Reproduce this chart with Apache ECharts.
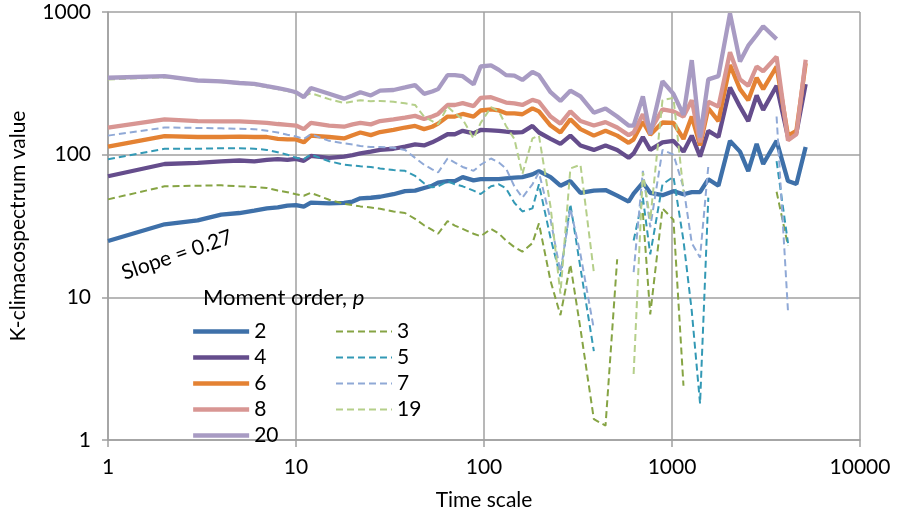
<!DOCTYPE html>
<html>
<head>
<meta charset="utf-8">
<script src="https://cdn.jsdelivr.net/npm/echarts@6/dist/echarts.min.js"></script>
<style>
html,body{margin:0;padding:0;background:#fff;}
#chart{width:902px;height:516px;}
</style>
</head>
<body>
<div id="chart"></div>
<script>
// Time scales (x)
const timeScale = [1,2,3,4,5,6,7,8,9,10,11,12,15,18,20,22,25,28,33,38,43,48,53,57,64,70,77,88,96,
  109,120,131,145,160,181,196,226,255,288,326,384,443,511,588,625,
  700,766,890,1018,1151,1274,1410,1560,1766,2035,2300,2545,2820,3055,3600,4140,4590,5140];

// Moment order p = 2
const p2 = [24.8,32.5,34.6,38,39,40.5,42,42.7,43.9,44.3,43.2,46.1,
  45.6,46,46.9,49.4,49.9,50.7,52.8,55.5,56,58.4,60.6,63.7,65.3,65.3,69.6,66,67.3,
  67.3,67.3,68.3,69,69.6,72.8,76.7,69.6,60.6,65.3,54,56,56.5,51.6,46.9,53.3,
  63.7,54,52,55.5,52.8,54.6,54.6,67.3,60.6,125,105,76.7,119,86,125,65.3,62.3,113];
// p = 4
const p4 = [70.6,86,87.5,89.6,91,89.6,92,93,92,93.5,90.5,98,
  95,97,99.3,102,105,108,110,114,118,116,122,128,139,139,147,141,149,
  148,147,145,143,144,159,143,129,119,136,116,108,116,108,95,102,
  133,108,122,125,105,136,97,147,133,296,217,172,260,206,304,133,143,312];
// p = 6
const p6 = [114,135,133,133,134,133,133,129,128,128,122,136,
  133,130,137,143,137,144,149,155,159,151,157,165,185,185,193,185,204,
  208,204,195,195,192,211,201,160,143,177,151,136,147,136,121,128,
  170,138,168,167,129,185,116,211,172,425,288,241,346,288,415,136,147,437];
// p = 8
const p8 = [155,177,172,171,171,169,167,164,162,160,151,167,
  160,157,163,167,163,172,177,182,187,178,185,193,223,223,230,219,250,
  253,242,232,229,223,242,235,185,165,201,172,160,169,155,137,143,
  192,147,208,201,185,241,122,235,217,523,337,304,415,384,485,126,139,462];
// p = 20
const p20 = [346,355,331,326,318,313,302,293,284,274,253,293,
  267,247,260,274,260,281,284,296,307,267,277,288,361,361,355,311,415,
  422,393,361,358,334,380,361,274,238,281,256,197,211,185,160,160,
  256,139,327,267,190,460,132,337,355,978,449,581,690,794,645,null,null,null];
// p = 3
const p3 = [48.6,60,60.6,61,60,59.4,58.4,56,54.6,52.8,51.5,54,
  48.3,45.3,44.3,43.4,42.6,41.8,40,39,35.5,32,29.7,27.9,34.2,31.8,30.2,27.9,26.8,
  30.2,28,25,22.5,20.9,24,33,13,7.5,17,6,1.4,1.26,18.5,null,null,
  39,7.6,42,35,2.4,null,null,null,null,null,null,null,null,null,55,23,null,null];
// p = 5
const p5 = [93,110,110,111,111,110,108,104,100,95,93,100,
  90,85,84,83,82,80,78,77,71,63,59,60,65,62,60,56,53,
  60,62,58,46,40,42,62,26,14,45,16,4.2,null,null,null,25,
  50,20,62,70,25,8,1.8,50,null,null,null,null,null,null,90,24,null,null];
// p = 7
const p7 = [136,155,154,153,152,151,147,143,138,134,129,139,
  125,120,118,115,113,113,112,108,95,85,79,75,94,88,82,77,85,
  94,88,80,60,50,62,75,35,15,42,20,6,null,null,null,15,
  77,31,108,100,59,24,19,83,null,null,null,null,null,null,185,8,null,null];
// p = 19
const p19 = [337,348,332,322,314,308,297,288,279,268,256,270,
  245,230,236,241,237,238,235,229,223,185,172,163,217,195,177,130,167,
  215,201,159,129,73,130,136,43,10.6,80,85,15,null,null,null,2.9,
  75,35,241,250,55,null,null,null,null,null,null,null,null,null,null,null,null,null];

const xTicks = [1,10,100,1000,10000];
const yTicks = [1,10,100,1000];

const FONT = 'Lato';
const seriesDefs = [
  {name:'2', data:p2, color:'#3e70a9', dashed:false},
  {name:'3', data:p3, color:'#86a444', dashed:true},
  {name:'4', data:p4, color:'#654d8c', dashed:false},
  {name:'5', data:p5, color:'#3399b5', dashed:true},
  {name:'6', data:p6, color:'#e48233', dashed:false},
  {name:'7', data:p7, color:'#90a9d6', dashed:true},
  {name:'8', data:p8, color:'#d89693', dashed:false},
  {name:'19', data:p19, color:'#b5cf8a', dashed:true},
  {name:'20', data:p20, color:'#a89bc3', dashed:false}
];

const series = seriesDefs.map(d => ({
  name: d.name,
  type: 'line',
  symbol: 'none',
  showSymbol: false,
  connectNulls: false,
  data: timeScale.map((x,i) => [x, d.data[i] == null ? '-' : d.data[i]]),
  lineStyle: d.dashed ? {width: 2, color: d.color, type: [7,4]} : {width: 4.3, color: d.color},
  itemStyle: {color: d.color},
  emphasis: {disabled: true}
}));

const legendBase = {
  orient: 'vertical',
  top: 316,
  itemWidth: 56,
  itemHeight: 14,
  itemGap: 5,
  itemStyle: {opacity: 0},
  textStyle: {fontSize: 21, fontFamily: FONT, color: '#000', lineHeight: 20}
};

const fmt = v => String(Math.round(v));

const chart = echarts.init(document.getElementById('chart'), null, {renderer:'canvas'});
chart.setOption({
  animation: false,
  backgroundColor: '#fff',
  grid: {left: 106, right: 42, top: 12, bottom: 61, containLabel: false},
  xAxis: {
    type: 'log', logBase: 10, min: xTicks[0], max: xTicks[xTicks.length-1],
    name: 'Time scale', nameLocation: 'middle', nameGap: 50,
    nameTextStyle: {fontSize: 21, fontFamily: FONT, color: '#000'},
    axisLine: {show: true, lineStyle: {color: '#a0a0a0', width: 1.5}},
    axisTick: {show: true, length: 7, lineStyle: {color: '#a0a0a0', width: 1.5}},
    axisLabel: {fontSize: 21, fontFamily: FONT, color: '#000', margin: 17, formatter: fmt},
    splitLine: {show: true, lineStyle: {color: '#a0a0a0', width: 1.5}},
    minorTick: {show: false}
  },
  yAxis: {
    type: 'log', logBase: 10, min: yTicks[0], max: yTicks[yTicks.length-1],
    name: 'K-climacospectrum value', nameLocation: 'middle', nameGap: 79, nameRotate: 90,
    nameTextStyle: {fontSize: 21, fontFamily: FONT, color: '#000'},
    axisLine: {show: true, lineStyle: {color: '#a0a0a0', width: 1.5}},
    axisTick: {show: true, length: 6, lineStyle: {color: '#a0a0a0', width: 1.5}},
    axisLabel: {fontSize: 21, fontFamily: FONT, color: '#000', margin: 17, formatter: fmt},
    splitLine: {show: true, lineStyle: {color: '#a0a0a0', width: 1.5}},
    minorTick: {show: false}
  },
  legend: [
    Object.assign({}, legendBase, {left: 186, data: ['2','4','6','8','20'], lineStyle: {width: 4.3}}),
    Object.assign({}, legendBase, {left: 330, data: ['3','5','7','19'], lineStyle: {width: 2}})
  ],
  graphic: [
    {type: 'text', x: 203, y: 298, z: 100,
     style: {text: '{a|Moment order, }{b|p}', textVerticalAlign: 'middle',
       rich: {a: {fontSize: 22, fontFamily: FONT, fill: '#000'}, b: {fontSize: 22, fontFamily: FONT, fontStyle: 'italic', fill: '#000'}}}},
    {type: 'text', x: 177, y: 255, rotation: 0.33, z: 100,
     style: {text: 'Slope = 0.27', fontSize: 21, fontFamily: FONT, fill: '#000', textAlign: 'center', textVerticalAlign: 'middle'}}
  ],
  series: series
});
</script>
</body>
</html>
